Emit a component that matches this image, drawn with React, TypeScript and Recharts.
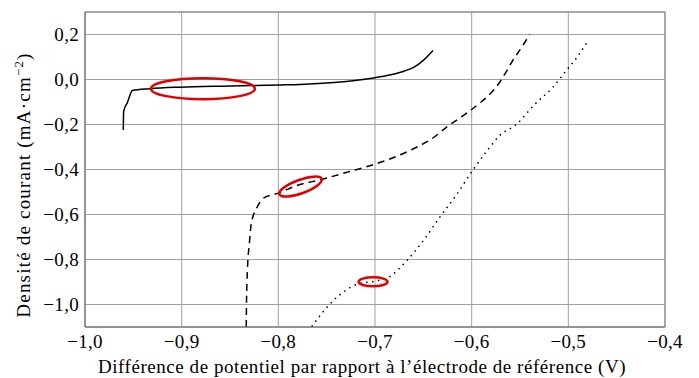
import {
  ComposedChart,
  Line,
  XAxis,
  YAxis,
  CartesianGrid,
  ReferenceArea,
  ReferenceDot,
  Label,
} from 'recharts';

// courbe en trait plein
const solidX = [-0.9604, -0.960, -0.956, -0.951, -0.933, -0.902, -0.85, -0.798, -0.778, -0.75, -0.725, -0.70, -0.685, -0.67, -0.66, -0.65, -0.64];
const solidY = [-0.224, -0.141, -0.101, -0.049, -0.041, -0.034, -0.029, -0.024, -0.022, -0.016, -0.007, 0.008, 0.020, 0.037, 0.054, 0.085, 0.129];

// courbe en tirets
const dashedX = [-0.8332, -0.833, -0.832, -0.830, -0.828, -0.822, -0.816, -0.808, -0.800, -0.781, -0.757, -0.729, -0.699, -0.678, -0.657, -0.640, -0.626, -0.612, -0.599, -0.591, -0.584, -0.577, -0.571, -0.564, -0.557, -0.548, -0.540];
const dashedY = [-1.1, -1.012, -0.849, -0.730, -0.641, -0.568, -0.530, -0.514, -0.505, -0.471, -0.446, -0.412, -0.375, -0.342, -0.301, -0.260, -0.212, -0.170, -0.130, -0.103, -0.077, -0.046, -0.012, 0.036, 0.088, 0.145, 0.200];

// courbe en pointillés
const dottedX = [-0.7655, -0.743, -0.717, -0.700, -0.686, -0.667, -0.650, -0.633, -0.615, -0.599, -0.584, -0.571, -0.553, -0.536, -0.516, -0.502, -0.491, -0.479];
const dottedY = [-1.098, -0.982, -0.908, -0.896, -0.879, -0.804, -0.716, -0.612, -0.508, -0.404, -0.316, -0.249, -0.197, -0.116, -0.034, 0.040, 0.099, 0.176];

// annotations (centres des ellipses rouges)
const markX = [-0.878, -0.777, -0.702];
const markY = [-0.041, -0.476, -0.899];

const xTicks = [-1.0, -0.9, -0.8, -0.7, -0.6, -0.5, -0.4];
const yTicks = [-1.0, -0.8, -0.6, -0.4, -0.2, 0.0, 0.2];

const toPts = (xs: number[], ys: number[]) => xs.map((x, i) => ({ x, y: ys[i] }));
const solid = toPts(solidX, solidY);
const dashed = toPts(dashedX, dashedY);
const dotted = toPts(dottedX, dottedY);

const ellipseStyle = [
  { rx: 52, ry: 10.5, rot: 0 },
  { rx: 22.5, ry: 6.8, rot: -20 },
  { rx: 14.5, ry: 4.5, rot: 0 },
];

const fmt = (v: number) => v.toFixed(1).replace('.', ',').replace('-', '\u2212');

const css = `
.chart-root svg text { font-family: 'Liberation Serif', serif; fill: #000; }
`;

function XTick(props: any) {
  return (
    <text x={props.x} y={348} textAnchor="middle" fontSize={19} letterSpacing={0.3}>
      {fmt(props.payload.value)}
    </text>
  );
}

function YTick(props: any) {
  return (
    <text x={79} y={props.y} dy="0.36em" textAnchor="end" fontSize={19} letterSpacing={0.3}>
      {fmt(props.payload.value)}
    </text>
  );
}

function XLabel() {
  return (
    <text x={362} y={373} textAnchor="middle" fontSize={19} letterSpacing={0.55}>
      Différence de potentiel par rapport à l’électrode de référence (V)
    </text>
  );
}

function YLabel() {
  const cx = 30;
  const cy = 185;
  return (
    <text
      x={cx}
      y={cy}
      transform={`rotate(-90 ${cx} ${cy})`}
      textAnchor="middle"
      fontSize={19}
      letterSpacing={1.2}
    >
      Densité de courant (mA·cm
      <tspan dy={-7} fontSize={13}>−2</tspan>
      <tspan dy={7}>)</tspan>
    </text>
  );
}

export default function App() {
  return (
    <div className="chart-root" style={{ position: 'fixed', left: 0, top: 0, background: '#fff' }}>
      <style>{css}</style>
      <ComposedChart width={699} height={378} margin={{ top: 12, right: 34, bottom: 0, left: 0 }}>
        <CartesianGrid stroke="#a0a0a0" strokeWidth={1} />
        <XAxis
          type="number"
          dataKey="x"
          domain={[-1.0, -0.4]}
          ticks={xTicks}
          tick={<XTick />}
          allowDataOverflow
          tickLine={false}
          stroke="#808080"
          height={51}
        >
          <Label content={<XLabel />} />
        </XAxis>
        <YAxis
          type="number"
          dataKey="y"
          domain={[-1.1, 0.3]}
          ticks={yTicks}
          tick={<YTick />}
          allowDataOverflow
          tickLine={false}
          stroke="#808080"
          width={85}
        >
          <Label content={<YLabel />} />
        </YAxis>
        <ReferenceArea x1={-1.0} x2={-0.4} y1={-1.1} y2={0.3} fill="none" stroke="#808080" strokeWidth={1} />
        <Line data={solid} dataKey="y" type="monotone" stroke="#000" strokeWidth={1.5} dot={false} activeDot={false} isAnimationActive={false} />
        <Line data={dashed} dataKey="y" type="monotone" stroke="#000" strokeWidth={1.5} strokeDasharray="7 5" dot={false} activeDot={false} isAnimationActive={false} />
        <Line data={dotted} dataKey="y" type="monotone" stroke="#000" strokeWidth={1.5} strokeDasharray="1.5 4.5" dot={false} activeDot={false} isAnimationActive={false} />
        {markX.map((mx, i) => (
          <ReferenceDot
            key={i}
            x={mx}
            y={markY[i]}
            shape={(p: any) => (
              <ellipse
                cx={p.cx}
                cy={p.cy}
                rx={ellipseStyle[i].rx}
                ry={ellipseStyle[i].ry}
                transform={`rotate(${ellipseStyle[i].rot} ${p.cx} ${p.cy})`}
                fill="none"
                stroke="#e00000"
                strokeWidth={2.5}
              />
            )}
          />
        ))}
      </ComposedChart>
    </div>
  );
}
